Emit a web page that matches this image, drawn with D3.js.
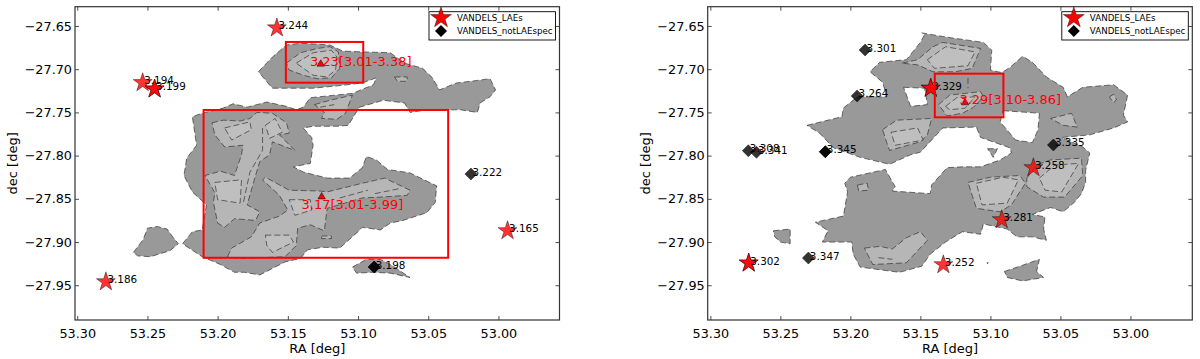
<!DOCTYPE html>
<html>
<head>
<meta charset="utf-8">
<script src="https://cdn.jsdelivr.net/npm/d3@7"></script>
<style>
  html, body { margin: 0; padding: 0; background: #fff; }
  svg { display: block; }
  text { font-family: "DejaVu Sans", sans-serif; }
</style>
</head>
<body>
<div id="chart"></div>
<script>
// All contour rings are [RA, dec] in degrees

// ── Left panel ───────────────────────────────────────────────
const leftOuter = [
  [[53.171,-27.703],[53.161,-27.686],[53.151,-27.672],[53.141,-27.670],[53.120,-27.672],[53.111,-27.679],[53.097,-27.680],[53.077,-27.681],[53.067,-27.693],[53.054,-27.699],[53.047,-27.710],[53.042,-27.724],[53.030,-27.716],[53.015,-27.713],[53.006,-27.711],[53.002,-27.724],[53.006,-27.732],[53.013,-27.739],[53.015,-27.750],[53.027,-27.747],[53.051,-27.747],[53.063,-27.750],[53.067,-27.739],[53.082,-27.736],[53.099,-27.744],[53.107,-27.765],[53.115,-27.766],[53.132,-27.766],[53.139,-27.768],[53.133,-27.779],[53.132,-27.788],[53.134,-27.809],[53.146,-27.813],[53.139,-27.819],[53.122,-27.826],[53.106,-27.826],[53.097,-27.814],[53.094,-27.801],[53.087,-27.805],[53.079,-27.816],[53.063,-27.820],[53.044,-27.835],[53.045,-27.854],[53.051,-27.866],[53.068,-27.875],[53.077,-27.878],[53.084,-27.886],[53.097,-27.883],[53.100,-27.888],[53.113,-27.907],[53.125,-27.906],[53.136,-27.909],[53.141,-27.919],[53.152,-27.923],[53.170,-27.938],[53.181,-27.935],[53.188,-27.935],[53.198,-27.926],[53.211,-27.917],[53.225,-27.902],[53.218,-27.888],[53.211,-27.886],[53.208,-27.857],[53.218,-27.842],[53.224,-27.823],[53.222,-27.803],[53.215,-27.788],[53.218,-27.755],[53.211,-27.751],[53.196,-27.745],[53.189,-27.740],[53.179,-27.744],[53.165,-27.738],[53.151,-27.743],[53.144,-27.747],[53.139,-27.744],[53.134,-27.733],[53.104,-27.728],[53.089,-27.718],[53.087,-27.710],[53.097,-27.716],[53.113,-27.719],[53.132,-27.722],[53.151,-27.722],[53.161,-27.722]],
  [[53.260,-27.912],[53.253,-27.897],[53.250,-27.884],[53.243,-27.882],[53.236,-27.885],[53.232,-27.894],[53.228,-27.902],[53.234,-27.910],[53.248,-27.917],[53.257,-27.916]],
  [[53.104,-27.929],[53.094,-27.920],[53.084,-27.920],[53.075,-27.928],[53.063,-27.941],[53.077,-27.936],[53.089,-27.935],[53.101,-27.936]]
];
const leftMid = [
  [[53.151,-27.693],[53.141,-27.681],[53.129,-27.676],[53.120,-27.674],[53.114,-27.680],[53.113,-27.699],[53.119,-27.710],[53.129,-27.711],[53.139,-27.707],[53.149,-27.701]],
  [[53.074,-27.709],[53.065,-27.709],[53.065,-27.714],[53.072,-27.714]],
  [[53.131,-27.741],[53.120,-27.736],[53.104,-27.730],[53.109,-27.751],[53.115,-27.758],[53.126,-27.757],[53.124,-27.750]],
  [[53.204,-27.762],[53.196,-27.759],[53.184,-27.760],[53.177,-27.757],[53.172,-27.750],[53.161,-27.751],[53.151,-27.762],[53.149,-27.774],[53.156,-27.776],[53.145,-27.794],[53.161,-27.784],[53.163,-27.799],[53.170,-27.807],[53.173,-27.823],[53.179,-27.857],[53.170,-27.865],[53.173,-27.875],[53.188,-27.873],[53.195,-27.883],[53.200,-27.878],[53.203,-27.854],[53.202,-27.843],[53.209,-27.823],[53.198,-27.818],[53.188,-27.823],[53.183,-27.799],[53.182,-27.788],[53.195,-27.790],[53.202,-27.776]],
  [[53.193,-27.917],[53.190,-27.907],[53.176,-27.894],[53.170,-27.878],[53.156,-27.870],[53.150,-27.863],[53.156,-27.846],[53.168,-27.828],[53.166,-27.825],[53.149,-27.840],[53.127,-27.841],[53.122,-27.842],[53.097,-27.832],[53.081,-27.826],[53.063,-27.840],[53.065,-27.846],[53.084,-27.848],[53.097,-27.849],[53.122,-27.861],[53.124,-27.887],[53.134,-27.880],[53.143,-27.884],[53.144,-27.904],[53.152,-27.917],[53.184,-27.919]],
  [[53.126,-27.893],[53.119,-27.893],[53.119,-27.896],[53.126,-27.896]]
];
const leftLight = [
  [[53.144,-27.693],[53.132,-27.681],[53.119,-27.678],[53.115,-27.686],[53.116,-27.701],[53.122,-27.709],[53.132,-27.707]],
  [[53.202,-27.831],[53.183,-27.828],[53.184,-27.855],[53.200,-27.851]],
  [[53.166,-27.892],[53.149,-27.892],[53.146,-27.900],[53.161,-27.912],[53.165,-27.904]],
  [[53.166,-27.765],[53.159,-27.757],[53.154,-27.773],[53.163,-27.780]],
  [[53.195,-27.768],[53.177,-27.761],[53.176,-27.770],[53.190,-27.782]],
  [[53.149,-27.851],[53.134,-27.851],[53.133,-27.863],[53.145,-27.869]]
];
const leftDashes = [
  [[53.168,-27.768],[53.168,-27.794],[53.177,-27.819],[53.182,-27.857]],
  [[53.088,-27.844],[53.070,-27.838]],
  [[53.113,-27.849],[53.093,-27.840]],
  [[53.127,-27.744],[53.117,-27.741]]
];
const leftBoxes = [
  [53.1514,-27.6685,53.0963,-27.7156],
  [53.2100,-27.7472,53.0358,-27.9182]
];
const leftLAE = [
  ["3.244",53.1578,-27.6523],["3.194",53.2534,-27.7156],["3.199",53.2449,-27.7229],
  ["3.186",53.2796,-27.9460],["3.165",52.9935,-27.8869]
];
const leftOther = [["3.222",53.0196,-27.8213],["3.198",53.0885,-27.9289]];
// text, centre RA, centre dec, label RA, label dec
const leftGroups = [
  ["3.23[3.01-3.38]",53.1266,-27.6940,53.1343,-27.6963],
  ["3.17[3.01-3.99]",53.1259,-27.8476,53.1402,-27.8618]
];
const leftDoubled = ["3.199","3.198"];

// ── Right panel ──────────────────────────────────────────────
const rightOuter = [
  [[53.231,-27.765],[53.206,-27.755],[53.205,-27.745],[53.195,-27.732],[53.174,-27.732],[53.177,-27.715],[53.186,-27.703],[53.179,-27.692],[53.160,-27.689],[53.150,-27.669],[53.147,-27.660],[53.149,-27.658],[53.131,-27.663],[53.105,-27.669],[53.099,-27.678],[53.100,-27.701],[53.092,-27.704],[53.086,-27.698],[53.077,-27.685],[53.070,-27.692],[53.060,-27.709],[53.048,-27.721],[53.045,-27.732],[53.034,-27.721],[53.012,-27.718],[53.002,-27.730],[53.005,-27.753],[53.002,-27.761],[53.012,-27.768],[53.029,-27.776],[53.049,-27.779],[53.034,-27.790],[53.029,-27.797],[53.032,-27.817],[53.032,-27.831],[53.035,-27.844],[53.040,-27.854],[53.048,-27.865],[53.057,-27.860],[53.070,-27.868],[53.061,-27.871],[53.062,-27.885],[53.060,-27.898],[53.070,-27.894],[53.081,-27.894],[53.088,-27.885],[53.105,-27.879],[53.107,-27.891],[53.120,-27.888],[53.132,-27.900],[53.143,-27.914],[53.149,-27.928],[53.165,-27.935],[53.179,-27.932],[53.193,-27.929],[53.198,-27.914],[53.199,-27.900],[53.220,-27.900],[53.216,-27.887],[53.225,-27.877],[53.205,-27.870],[53.202,-27.842],[53.204,-27.832],[53.200,-27.825],[53.175,-27.816],[53.168,-27.836],[53.170,-27.841],[53.143,-27.844],[53.142,-27.834],[53.131,-27.814],[53.120,-27.813],[53.107,-27.813],[53.093,-27.805],[53.085,-27.797],[53.086,-27.791],[53.107,-27.779],[53.110,-27.767],[53.134,-27.768],[53.150,-27.796],[53.157,-27.799],[53.172,-27.810],[53.193,-27.802],[53.212,-27.791],[53.222,-27.774]],
  [[53.162,-27.721],[53.147,-27.722],[53.145,-27.741],[53.157,-27.743]],
  [[53.091,-27.748],[53.065,-27.751],[53.066,-27.770],[53.070,-27.785],[53.082,-27.782],[53.093,-27.761]],
  [[53.255,-27.887],[53.243,-27.885],[53.243,-27.902],[53.250,-27.900],[53.254,-27.894]],
  [[53.102,-27.792],[53.095,-27.792],[53.098,-27.802]],
  [[53.090,-27.934],[53.079,-27.928],[53.065,-27.920],[53.067,-27.934],[53.062,-27.941],[53.077,-27.945],[53.088,-27.941]],
  [[53.1025,-27.924],[53.1015,-27.924],[53.102,-27.925]]
];
const rightMid = [
  [[53.163,-27.693],[53.152,-27.689],[53.141,-27.674],[53.134,-27.669],[53.107,-27.676],[53.113,-27.699],[53.125,-27.703],[53.141,-27.703],[53.152,-27.695]],
  [[53.137,-27.741],[53.129,-27.730],[53.107,-27.726],[53.105,-27.732],[53.112,-27.744],[53.120,-27.751],[53.131,-27.754]],
  [[53.177,-27.770],[53.167,-27.759],[53.142,-27.757],[53.145,-27.776],[53.150,-27.784],[53.172,-27.794],[53.174,-27.785]],
  [[53.057,-27.757],[53.042,-27.751],[53.038,-27.767],[53.048,-27.765]],
  [[53.015,-27.732],[53.012,-27.729],[53.010,-27.735],[53.012,-27.739]],
  [[53.116,-27.831],[53.100,-27.825],[53.079,-27.823],[53.075,-27.832],[53.085,-27.857],[53.093,-27.865],[53.110,-27.861],[53.113,-27.846]],
  [[53.074,-27.826],[53.067,-27.811],[53.057,-27.805],[53.035,-27.803],[53.034,-27.823],[53.047,-27.848],[53.062,-27.848],[53.074,-27.836]],
  [[53.190,-27.907],[53.179,-27.905],[53.170,-27.908],[53.160,-27.895],[53.150,-27.888],[53.145,-27.898],[53.156,-27.917],[53.160,-27.924],[53.184,-27.926]],
  [[53.195,-27.834],[53.188,-27.832],[53.187,-27.840],[53.194,-27.841]]
];
const rightLight = [
  [[53.145,-27.689],[53.132,-27.674],[53.111,-27.680],[53.116,-27.696],[53.140,-27.699]],
  [[53.132,-27.743],[53.124,-27.733],[53.111,-27.732],[53.118,-27.745],[53.129,-27.747]],
  [[53.171,-27.773],[53.152,-27.768],[53.148,-27.782],[53.168,-27.788]],
  [[53.110,-27.832],[53.091,-27.825],[53.080,-27.828],[53.088,-27.855],[53.106,-27.857]],
  [[53.065,-27.826],[53.054,-27.811],[53.037,-27.809],[53.049,-27.842],[53.061,-27.840]]
];
const rightDashes = [
  [[53.116,-27.710],[53.116,-27.722]],
  [[53.180,-27.918],[53.170,-27.920]]
];
const rightBoxes = [[53.1397,-27.7052,53.0907,-27.7557]];
const rightLAE = [
  ["3.329",53.1426,-27.7221],["3.258",53.0693,-27.8140],["3.281",53.0919,-27.8742],
  ["3.302",53.2726,-27.9243],["3.252",53.1336,-27.9263]
];
const rightOther = [
  ["3.301",53.1895,-27.6778],["3.264",53.1952,-27.7310],["3.308",53.2729,-27.7943],
  ["3.341",53.2671,-27.7962],["3.345",53.2179,-27.7955],["3.347",53.2300,-27.9185],
  ["3.335",53.0550,-27.7877]
];
const rightGroups = [["3.29[3.10-3.86]",53.1181,-27.7388,53.1221,-27.7403]];
const rightDoubled = ["3.329","3.302","3.345"];

const raTicks  = [53.30,53.25,53.20,53.15,53.10,53.05,53.00];
const decTicks = [-27.65,-27.70,-27.75,-27.80,-27.85,-27.90,-27.95];
const legendNames = ["VANDELS_LAEs","VANDELS_notLAEspec"];

const width = 1200, height = 359;
const plotTop = 6.7, plotBottom = 320;

const svg = d3.select("#chart").append("svg")
  .attr("width", width)
  .attr("height", height);

const star    = d3.symbol(d3.symbolStar, 112)();
const starBig = d3.symbol(d3.symbolStar, 136)();
const diamond = d3.symbol(d3.symbolSquare, 72)();
const tri     = d3.symbol(d3.symbolTriangle, 24)();

function drawPanel(cfg) {
  const x = d3.scaleLinear().domain(cfg.raDomain).range([cfg.left, cfg.right]);
  const y = d3.scaleLinear().domain([-27.6277, -27.9902]).range([plotTop, plotBottom]);
  const line = d3.line().x(d => x(d[0])).y(d => y(d[1]));
  const g = svg.append("g");

  // one path per level so the holes in the outer level stay white
  function level(rings, fill) {
    g.append("path")
      .attr("d", rings.map(r => line(r) + "Z").join(""))
      .attr("fill", fill)
      .attr("fill-rule", "evenodd")
      .attr("stroke", "#333")
      .attr("stroke-width", 0.7)
      .attr("stroke-dasharray", "6,3");
  }
  level(cfg.outer, "#999999");
  level(cfg.mid, "#b6b6b6");
  level(cfg.light, "#bfbfbf");

  g.selectAll(".dash").data(cfg.dashes).enter().append("path")
    .attr("d", d => line(d))
    .attr("fill", "none")
    .attr("stroke", "#333")
    .attr("stroke-width", 0.7)
    .attr("stroke-dasharray", "6,3");

  // points
  const addMarks = (rows, shape, fill, rotate) => {
    const all = rows.concat(rows.filter(d => cfg.doubled.includes(d[0])));
    g.selectAll(null).data(all).enter().append("path")
      .attr("d", shape)
      .attr("transform", d => `translate(${x(d[1])},${y(d[2])}) rotate(${rotate})`)
      .attr("fill", fill)
      .attr("fill-opacity", 0.8)
      .attr("stroke", "#000")
      .attr("stroke-width", 0.4);
  };
  addMarks(cfg.other, diamond, "#000", 45);
  addMarks(cfg.lae, star, "#ff0000", 0);

  g.selectAll(null).data(cfg.lae.concat(cfg.other)).enter().append("text")
    .attr("x", d => x(d[1]) + 1.5)
    .attr("y", d => y(d[2]) + 1.5)
    .style("font-size", "10.4px")
    .attr("fill", "#000")
    .text(d => d[0]);

  // group centres and their labels
  g.selectAll(null).data(cfg.groups).enter().append("path")
    .attr("d", tri)
    .attr("transform", d => `translate(${x(d[1])},${y(d[2])})`)
    .attr("fill", "#ff0000")
    .attr("stroke", "#000")
    .attr("stroke-width", 0.5);

  g.selectAll(null).data(cfg.groups).enter().append("text")
    .attr("x", d => x(d[3]))
    .attr("y", d => y(d[4]))
    .style("font-size", "13px")
    .attr("fill", "#ff0000")
    .text(d => d[0]);

  g.selectAll(null).data(cfg.boxes).enter().append("rect")
    .attr("x", d => x(d[0]))
    .attr("y", d => y(d[1]))
    .attr("width", d => x(d[2]) - x(d[0]))
    .attr("height", d => y(d[3]) - y(d[1]))
    .attr("fill", "none")
    .attr("stroke", "#ff0000")
    .attr("stroke-width", 2);

  // axes, ticks point inward on all four sides
  const tickFmt = d3.format(".2f");
  const styleAxis = a => {
    a.selectAll("path").remove();
    a.selectAll("line").attr("stroke", "#222").attr("stroke-width", 0.8);
    a.selectAll("text").style("font-size", "12.8px").attr("fill", "#000");
  };
  g.append("g").attr("transform", `translate(0,${plotBottom})`)
    .call(d3.axisBottom(x).tickValues(raTicks).tickFormat(tickFmt).tickSizeInner(-4).tickPadding(9))
    .call(styleAxis);
  g.append("g").attr("transform", `translate(0,${plotTop})`)
    .call(d3.axisTop(x).tickValues(raTicks).tickFormat("").tickSizeInner(-4))
    .call(styleAxis);
  g.append("g").attr("transform", `translate(${cfg.left},0)`)
    .call(d3.axisLeft(y).tickValues(decTicks).tickFormat(tickFmt).tickSizeInner(-4).tickPadding(3))
    .call(styleAxis);
  g.append("g").attr("transform", `translate(${cfg.right},0)`)
    .call(d3.axisRight(y).tickValues(decTicks).tickFormat("").tickSizeInner(-4))
    .call(styleAxis);

  g.append("rect")
    .attr("x", cfg.left).attr("y", plotTop)
    .attr("width", cfg.right - cfg.left)
    .attr("height", plotBottom - plotTop)
    .attr("fill", "none")
    .attr("stroke", "#333")
    .attr("stroke-width", 1.2);

  g.append("text")
    .attr("x", (cfg.left + cfg.right) / 2)
    .attr("y", 353)
    .attr("text-anchor", "middle")
    .style("font-size", "13px")
    .text("RA [deg]");

  g.append("text")
    .attr("transform", `translate(${cfg.left - 58},${(plotTop + plotBottom) / 2}) rotate(-90)`)
    .attr("text-anchor", "middle")
    .style("font-size", "13px")
    .text("dec [deg]");

  // legend
  const leg = g.append("g").attr("transform", `translate(${cfg.right - 130.5},11.7)`);
  leg.append("rect")
    .attr("width", 126.5).attr("height", 28.3)
    .attr("fill", "#fff").attr("stroke", "#000").attr("stroke-width", 0.9);
  leg.append("path").attr("d", starBig)
    .attr("transform", "translate(12,6.2)")
    .attr("fill", "#ff0000").attr("stroke", "#000").attr("stroke-width", 0.4);
  leg.append("path").attr("d", diamond)
    .attr("transform", "translate(12,19.4) rotate(45)")
    .attr("fill", "#000");
  leg.selectAll("text").data(legendNames).enter().append("text")
    .attr("x", 28)
    .attr("y", (d, i) => 9.7 + i * 13)
    .style("font-size", "8.7px")
    .text(d => d);
}

drawPanel({
  left: 75, right: 559.5, raDomain: [53.3016, 52.9565],
  outer: leftOuter, mid: leftMid, light: leftLight, dashes: leftDashes,
  boxes: leftBoxes, lae: leftLAE, other: leftOther, groups: leftGroups, doubled: leftDoubled
});
drawPanel({
  left: 707.7, right: 1192.3, raDomain: [53.3019, 52.9558],
  outer: rightOuter, mid: rightMid, light: rightLight, dashes: rightDashes,
  boxes: rightBoxes, lae: rightLAE, other: rightOther, groups: rightGroups, doubled: rightDoubled
});
</script>
</body>
</html>
